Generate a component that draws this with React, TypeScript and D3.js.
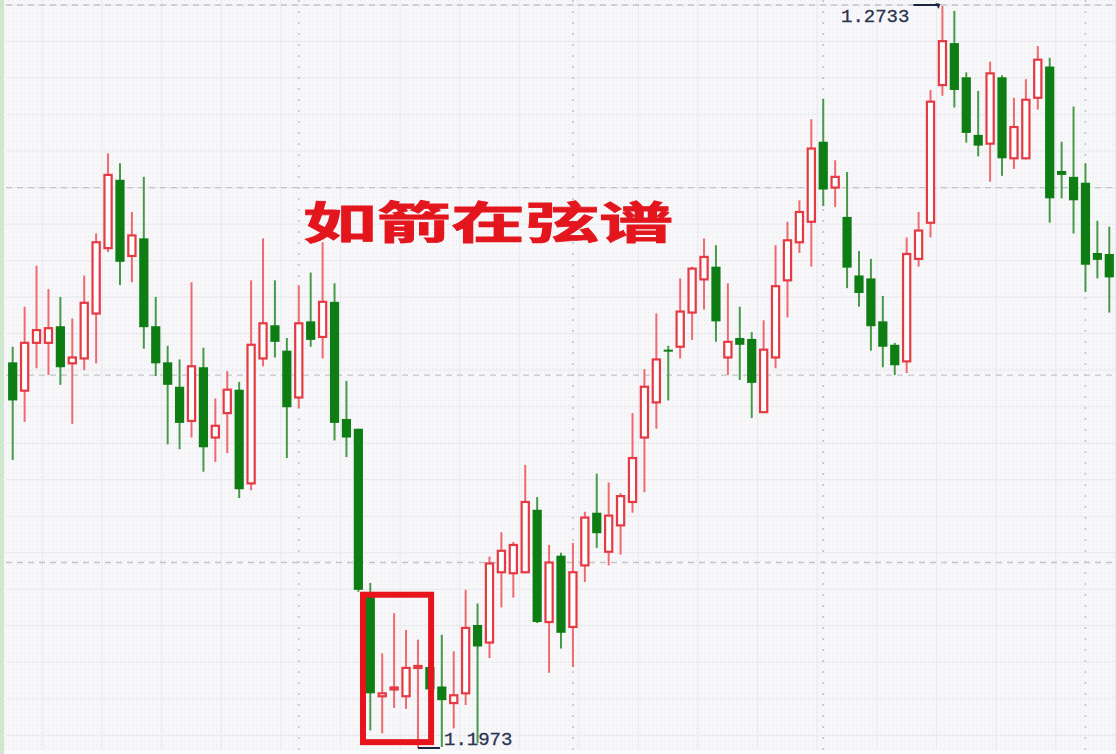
import React from 'react';
import * as d3 from 'd3';

// ---- data ----
const days = d3.range(93);

const openP = [
  1.2368, 1.2339, 1.2388, 1.2388, 1.2405, 1.2367, 1.2372, 1.2418, 1.2485, 1.2555,
  1.2477, 1.2495, 1.2405, 1.2368, 1.2343, 1.2308, 1.2363, 1.2291, 1.2316, 1.2340,
  1.2244, 1.2372, 1.2406, 1.2380, 1.2332, 1.2410, 1.2394, 1.2430, 1.2310, 1.2300,
  1.2128, 1.2026, 1.2033, 1.2026, 1.2055, 1.2056, 1.2036, 1.2019, 1.2029, 1.2099,
  1.2081, 1.2153, 1.2152, 1.2153, 1.2217, 1.2102, 1.2170, 1.2097, 1.2160, 1.2214,
  1.2174, 1.2201, 1.2225, 1.2291, 1.2327, 1.2381, 1.2384, 1.2419, 1.2453, 1.2466,
  1.2373, 1.2393, 1.2392, 1.2317, 1.2373, 1.2452, 1.2491, 1.2512, 1.2594, 1.2547,
  1.2517, 1.2457, 1.2454, 1.2410, 1.2386, 1.2369, 1.2474, 1.2511, 1.2652, 1.2695,
  1.2660, 1.2601, 1.2592, 1.2660, 1.2577, 1.2577, 1.2639, 1.2671, 1.2564, 1.2558,
  1.2552, 1.2480, 1.2479,
];
const highP = [
  1.2384, 1.2425, 1.2467, 1.2443, 1.2435, 1.2413, 1.2457, 1.2500, 1.2582, 1.2572,
  1.2522, 1.2558, 1.2435, 1.2385, 1.2371, 1.2450, 1.2383, 1.2331, 1.2359, 1.2348,
  1.2452, 1.2495, 1.2452, 1.2393, 1.2447, 1.2460, 1.2491, 1.2449, 1.2349, 1.2300,
  1.2142, 1.2070, 1.2111, 1.2094, 1.2084, 1.2061, 1.2089, 1.2072, 1.2135, 1.2121,
  1.2169, 1.2194, 1.2184, 1.2263, 1.2230, 1.2181, 1.2173, 1.2183, 1.2215, 1.2254,
  1.2245, 1.2234, 1.2316, 1.2361, 1.2418, 1.2385, 1.2454, 1.2466, 1.2495, 1.2488,
  1.2449, 1.2425, 1.2399, 1.2411, 1.2488, 1.2512, 1.2534, 1.2617, 1.2638, 1.2575,
  1.2563, 1.2482, 1.2474, 1.2436, 1.2388, 1.2496, 1.2522, 1.2647, 1.2733, 1.2728,
  1.2665, 1.2646, 1.2676, 1.2662, 1.2639, 1.2658, 1.2692, 1.2680, 1.2594, 1.2630,
  1.2572, 1.2513, 1.2507,
];
const lowP = [
  1.2268, 1.2307, 1.2362, 1.2355, 1.2345, 1.2305, 1.2360, 1.2367, 1.2481, 1.2447,
  1.2450, 1.2382, 1.2354, 1.2284, 1.2279, 1.2291, 1.2256, 1.2266, 1.2275, 1.2229,
  1.2237, 1.2364, 1.2373, 1.2270, 1.2321, 1.2384, 1.2372, 1.2288, 1.2271, 1.2133,
  1.1991, 1.1988, 1.2014, 1.2013, 1.1973, 1.2030, 1.1974, 1.1993, 1.2017, 1.1978,
  1.2065, 1.2117, 1.2127, 1.2152, 1.2101, 1.2050, 1.2075, 1.2056, 1.2143, 1.2178,
  1.2160, 1.2171, 1.2214, 1.2235, 1.2300, 1.2329, 1.2372, 1.2391, 1.2422, 1.2389,
  1.2355, 1.2350, 1.2311, 1.2317, 1.2362, 1.2414, 1.2480, 1.2466, 1.2528, 1.2527,
  1.2444, 1.2425, 1.2380, 1.2363, 1.2355, 1.2357, 1.2466, 1.2496, 1.2641, 1.2629,
  1.2593, 1.2579, 1.2553, 1.2559, 1.2566, 1.2576, 1.2627, 1.2511, 1.2536, 1.2500,
  1.2440, 1.2454, 1.2419,
];
const closeP = [
  1.2329, 1.2388, 1.2401, 1.2403, 1.2363, 1.2373, 1.2429, 1.2491, 1.2560, 1.2471,
  1.2498, 1.2404, 1.2367, 1.2345, 1.2306, 1.2364, 1.2281, 1.2303, 1.2340, 1.2238,
  1.2386, 1.2408, 1.2389, 1.2322, 1.2408, 1.2391, 1.2430, 1.2306, 1.2291, 1.2135,
  1.2029, 1.2029, 1.2035, 1.2055, 1.2057, 1.2033, 1.2022, 1.2027, 1.2096, 1.2077,
  1.2162, 1.2175, 1.2181, 1.2225, 1.2102, 1.2163, 1.2091, 1.2153, 1.2209, 1.2193,
  1.2211, 1.2231, 1.2270, 1.2343, 1.2371, 1.2379, 1.2420, 1.2464, 1.2476, 1.2410,
  1.2389, 1.2386, 1.2347, 1.2381, 1.2446, 1.2493, 1.2522, 1.2587, 1.2545, 1.2558,
  1.2465, 1.2439, 1.2405, 1.2384, 1.2365, 1.2479, 1.2503, 1.2635, 1.2697, 1.2647,
  1.2603, 1.2590, 1.2664, 1.2577, 1.2609, 1.2637, 1.2678, 1.2536, 1.2560, 1.2534,
  1.2468, 1.2473, 1.2455,
];

// major grid (price levels) and month separators (candle index)
const gridPrices = [1.2734, 1.2547, 1.2355, 1.2163];
const monthStarts = [24, 47, 68, 90];

const titleText = '如箭在弦谱';
const highLabel = '1.2733';
const lowLabel = '1.1973';
const highIdx = 78;
const lowIdx = 34;
// highlighted box: candle range and price range
const boxFrom = 30;
const boxTo = 35;
const boxTopPrice = 1.2130;
const boxBottomPrice = 1.1979;

const RED = '#e53a44';
const RED_WICK = '#ee6a70';
const GREEN = '#0e7e14';
const GREEN_WICK = '#479a4a';

export default function App() {
  const W = 1116;
  const H = 754;
  const x = d3.scalePoint<number>().domain(days).range([12.7, 1109.3]);
  const y = d3.scaleLinear().domain([1.1973, 1.2733]).range([748, 6]);
  const step = x.step();

  // minor grid: 5 subdivisions between major price lines
  const majorStep = gridPrices[0] - gridPrices[1];
  const minorPrices: number[] = [];
  for (let k = -2; k < 25; k++) {
    const p = gridPrices[0] - (k * majorStep) / 5;
    if (y(p) > 0 && y(p) < 750) minorPrices.push(p);
  }
  const minorDays = days.filter((d) => d % 5 === 2);

  const candles = days.map((i) => {
    const o = openP[i], h = highP[i], l = lowP[i], c = closeP[i];
    const up = c >= o;
    const cx = x(i) as number;
    const top = y(Math.max(o, c));
    const bot = y(Math.min(o, c));
    const bh = Math.max(bot - top, 2);
    if (up) {
      return (
        <g key={i}>
          <line x1={cx} x2={cx} y1={y(h)} y2={top} stroke={RED_WICK} strokeWidth={2} />
          <line x1={cx} x2={cx} y1={top + bh} y2={y(l)} stroke={RED_WICK} strokeWidth={2} />
          <rect x={cx - 3.6} y={top} width={7.2} height={bh} fill="#fdfdfd" stroke={RED} strokeWidth={2.2} />
        </g>
      );
    }
    return (
      <g key={i}>
        <line x1={cx} x2={cx} y1={y(h)} y2={y(l)} stroke={GREEN_WICK} strokeWidth={2} />
        <rect x={cx - 4.6} y={top} width={9.2} height={bh} fill={GREEN} />
      </g>
    );
  });

  const hx = x(highIdx) as number;
  const hy = y(highP[highIdx]);
  const lx = x(lowIdx) as number;
  const ly = y(lowP[lowIdx]);

  const bx1 = (x(boxFrom) as number) - 7.3;
  const bx2 = (x(boxTo) as number) + 1.2;
  const by1 = y(boxTopPrice);
  const by2 = y(boxBottomPrice);

  return (
    <svg width={W} height={H} style={{ position: 'absolute', left: 0, top: 0, display: 'block' }}>
      <defs>
        <pattern id="dots" width="4" height="4" patternUnits="userSpaceOnUse">
          <rect width="4" height="4" fill="#f8f8fa" />
          <rect x="0" y="0" width="1.2" height="1.2" fill="#e9e9ee" />
          <rect x="2" y="2" width="1" height="1" fill="#f1f1f4" />
        </pattern>
      </defs>
      <rect width={W} height={H} fill="#fdfdfd" />
      <rect x={0} y={0} width={W} height={751} fill="url(#dots)" />
      <rect x={0} y={0} width={4} height={H} fill="#cfe6cf" />

      {/* minor grid */}
      {minorPrices.map((p, k) => (
        <line key={'mh' + k} x1={6} x2={W} y1={y(p)} y2={y(p)} stroke="#e8e8ed" strokeWidth={1} />
      ))}
      {minorDays.map((d) => (
        <line key={'mv' + d} x1={(x(d) as number) + step / 2} x2={(x(d) as number) + step / 2} y1={0} y2={750} stroke="#e9e9ee" strokeWidth={1} />
      ))}

      {/* major dashed grid */}
      {gridPrices.map((p) => (
        <line key={'gh' + p} x1={6} x2={W} y1={y(p)} y2={y(p)} stroke="#c3c3c8" strokeWidth={1.3} strokeDasharray="6,5" />
      ))}
      {monthStarts.map((d) => (
        <line key={'gv' + d} x1={x(d) as number} x2={x(d) as number} y1={0} y2={750} stroke="#c3c3c8" strokeWidth={1.6} strokeDasharray="2,9" />
      ))}

      {candles}

      {/* highlight box */}
      <rect x={bx1} y={by1} width={bx2 - bx1} height={by2 - by1} fill="none" stroke="#e8141c" strokeWidth={6} />

      {/* high marker */}
      <line x1={hx - 29} x2={hx - 4} y1={hy - 1} y2={hy - 1} stroke="#1d2540" strokeWidth={2} />
      <path d={`M${hx - 7},${hy - 3} L${hx - 2},${hy - 2} L${hx - 4},${hy + 3} Z`} fill="#1d2540" />
      <text x={841} y={22} fontFamily="'Liberation Mono', monospace" fontSize={19} fill="#2a3350" stroke="#2a3350" strokeWidth={0.3}>{highLabel}</text>

      {/* low marker */}
      <line x1={lx} x2={lx + 22} y1={ly} y2={ly} stroke="#1d2540" strokeWidth={2} />
      <text x={444} y={745} fontFamily="'Liberation Mono', monospace" fontSize={19} fill="#2a3350" stroke="#2a3350" strokeWidth={0.3}>{lowLabel}</text>

      {/* title */}
      <text
        x={303}
        y={239}
        fontFamily="'Noto Sans CJK SC', sans-serif"
        fontWeight={700}
        fontSize={44}
        fill="#e3161e"
        stroke="#e3161e"
        strokeWidth={0.8}
        textLength={370}
        lengthAdjust="spacingAndGlyphs"
      >
        {titleText}
      </text>
    </svg>
  );
}
